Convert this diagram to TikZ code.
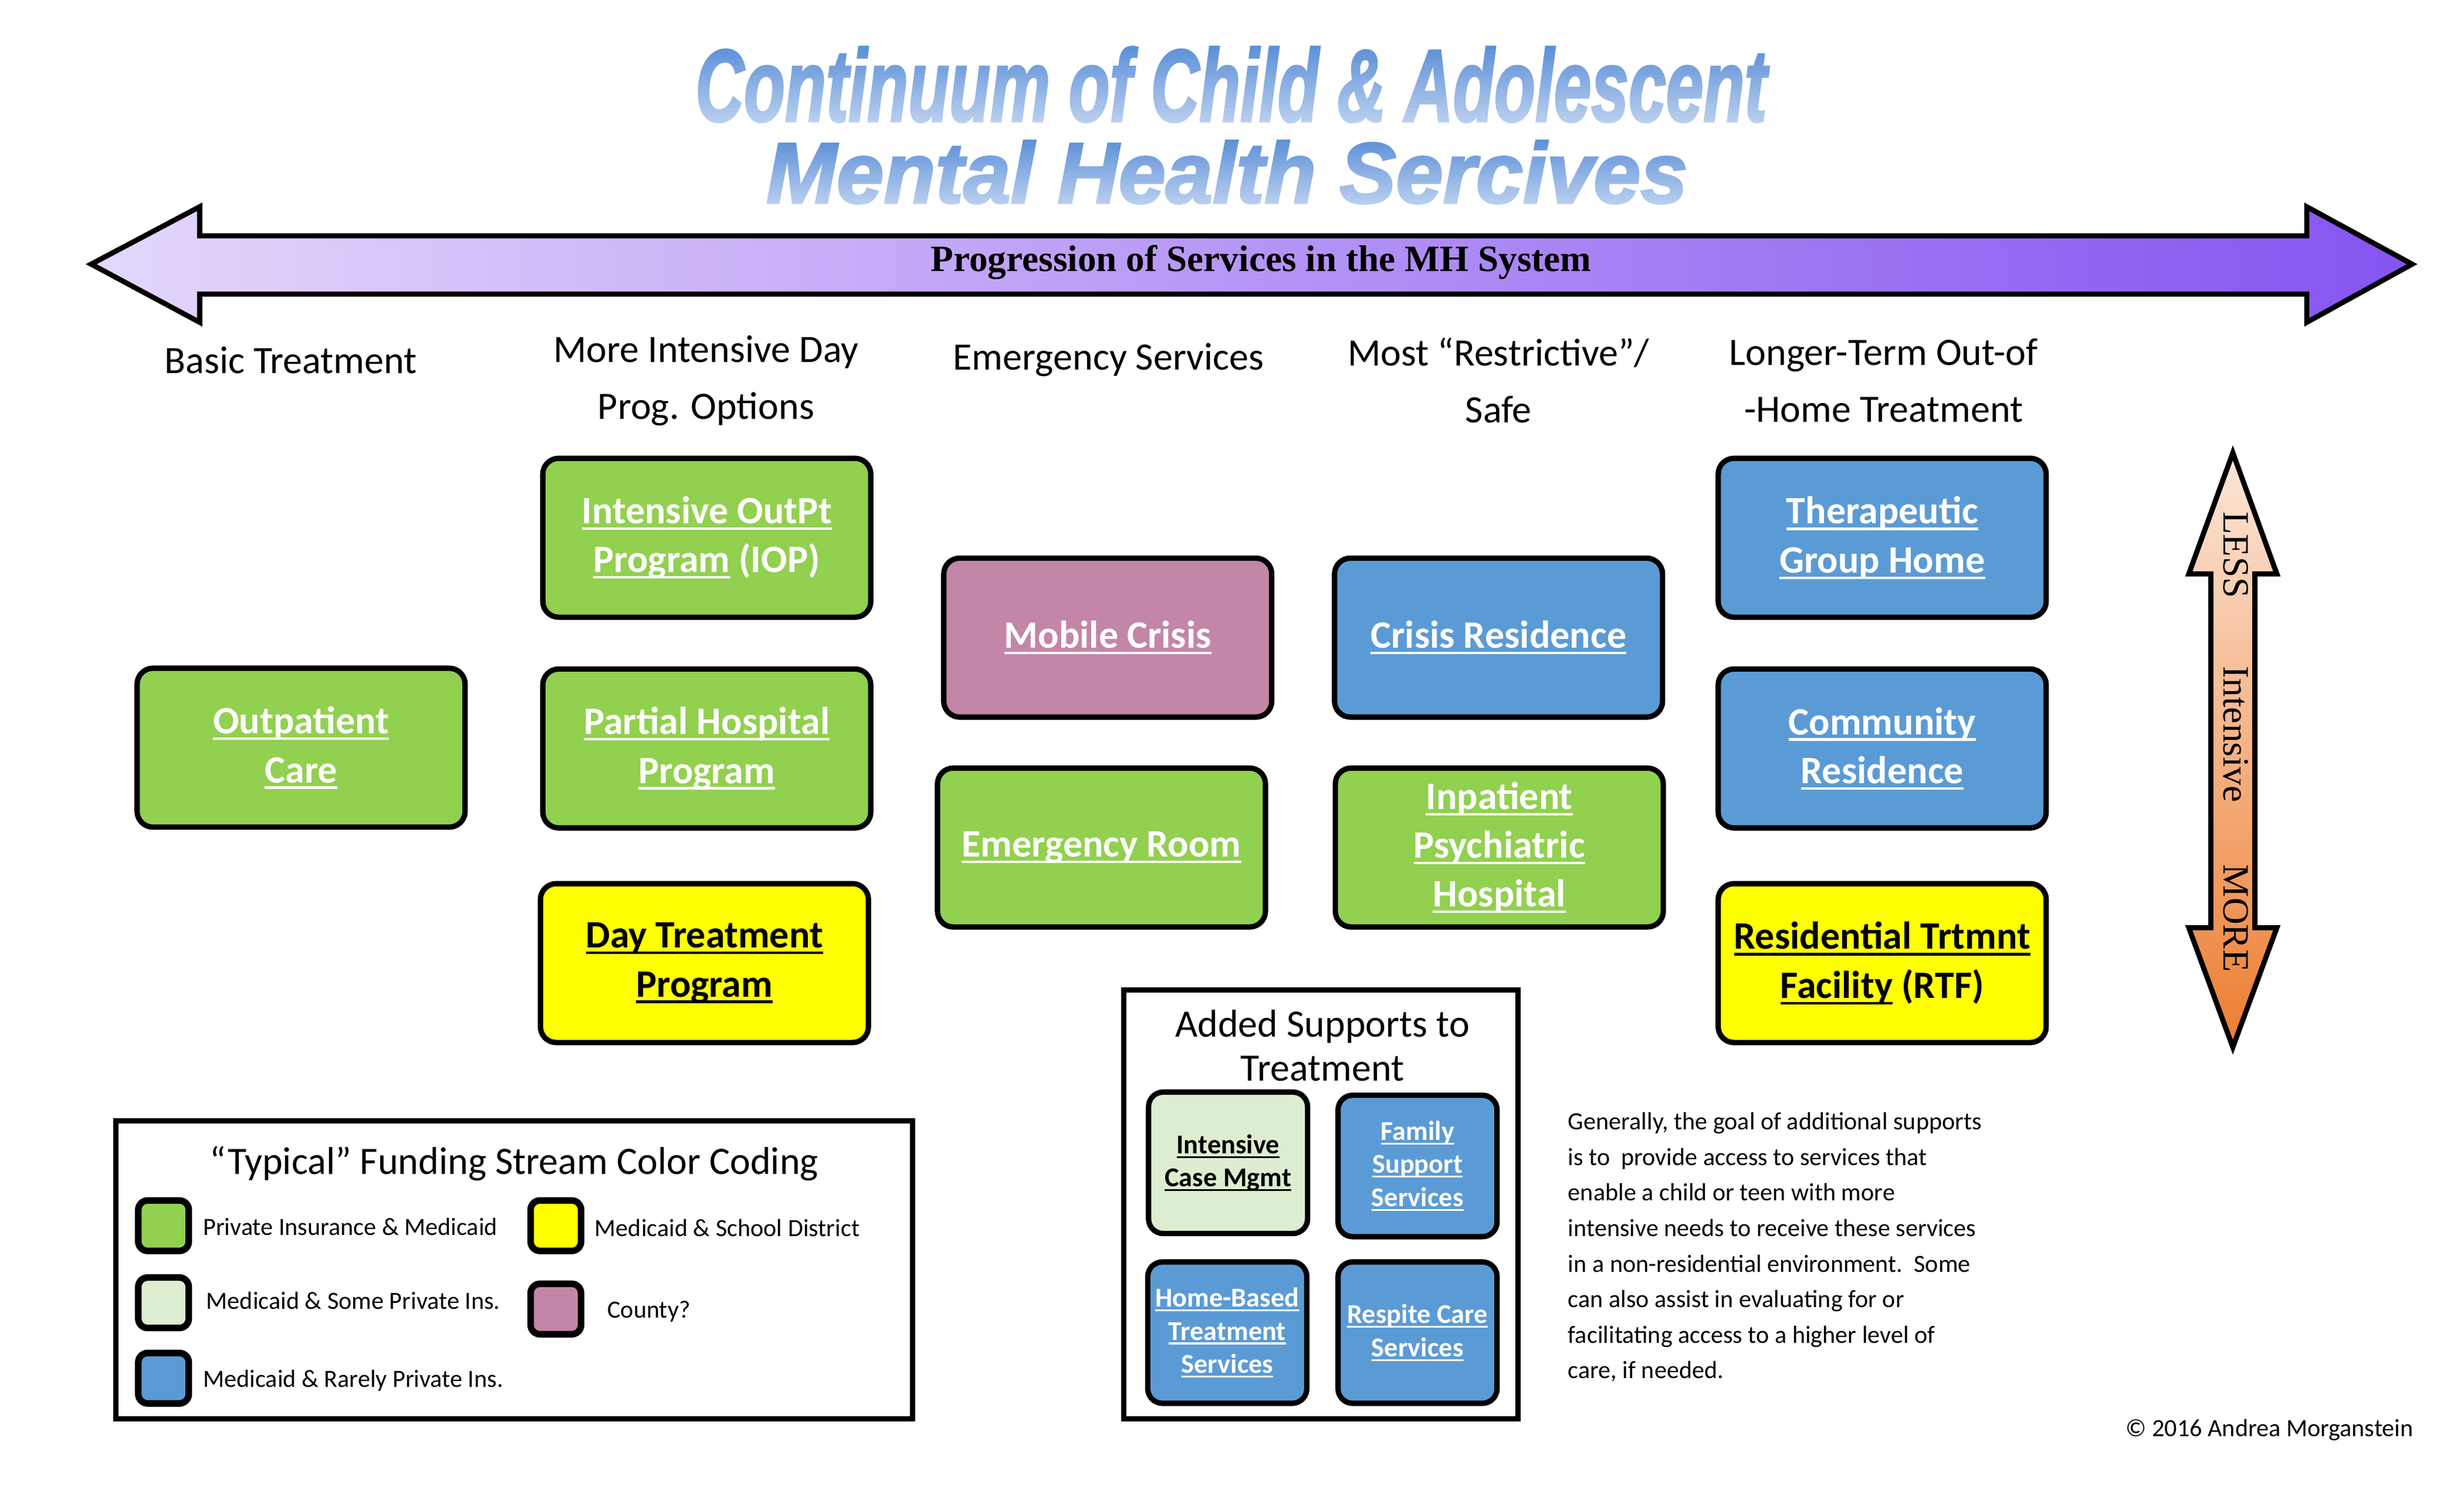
\documentclass[tikz,border=0pt]{standalone}
\usepackage{fontspec}
\setmainfont{Carlito}
\newfontfamily\ttlfont{Liberation Sans}[BoldItalicFeatures={FakeBold=2.5}]
\newfontfamily\serfont{Liberation Serif}
\definecolor{cgreen}{HTML}{92D050}
\definecolor{cblue}{HTML}{5B9BD5}
\definecolor{cyellow}{HTML}{FFFF00}
\definecolor{cmauve}{HTML}{C386A6}
\definecolor{clight}{HTML}{DDEDD0}
\definecolor{ttop}{HTML}{5A8ED8}
\definecolor{purL}{HTML}{E4D8FB}
\definecolor{purR}{HTML}{8654F0}
\definecolor{orT}{HTML}{FCE6D8}
\definecolor{orB}{HTML}{ED7D31}
\newcommand{\ulx}[1]{\setbox0=\hbox{#1}\rlap{\rule[-0.16em]{\wd0}{0.065em}}\box0\relax}
\begin{document}
\begin{tikzpicture}[x=0.026802cm, y=-0.026802cm,
  svc/.style={draw, line width=2.6pt, rounded corners=0.27cm, minimum width=5.589cm, minimum height=2.708cm,
    align=center, inner sep=0pt, font=\fontsize{18.8}{23.7}\selectfont\bfseries},
  sup/.style={draw, line width=2.6pt, rounded corners=0.25cm, minimum width=2.71cm, minimum height=2.41cm,
    align=center, inner sep=0pt, font=\fontsize{13.2}{16}\selectfont\bfseries},
  sw/.style={draw, line width=3.2pt, rounded corners=0.16cm, minimum size=0.86cm, inner sep=0pt},
  hdr/.style={align=center, inner sep=0pt, font=\fontsize{18.8}{27.6}\selectfont},
  small/.style={inner sep=0pt, font=\fontsize{12}{14}\selectfont},
  vtxt/.style={rotate=-90, inner sep=0pt, font=\serfont\fontsize{18}{20}\selectfont},
  ttl/.style={anchor=base west, inner sep=0pt, text depth=0pt, text=ttop},
  frame/.style={draw, line width=2.5pt}]
\useasboundingbox (0,0) rectangle (1567.03,951.4);

% ---------- title (blue text, lightened towards the bottom by white veils) ----------
\node[ttl] (titleA) at (442,77)
  {\resizebox{18.25cm}{1.262cm}{\ttlfont\bfseries\itshape Continuum of Child \& Adolescent}};
\node[ttl] (titleB) at (487,129)
  {\resizebox{15.70cm}{1.06cm}{\ttlfont\bfseries\itshape Mental Health Sercives}};
\foreach \i in {0,...,19}{
  \pgfmathsetmacro\ya{27+\i*2.6}
  \pgfmathsetmacro\yb{\ya+2.6}
  \pgfmathsetmacro\op{0.58*\i/19}
  \fill[white, fill opacity=\op] (420,\ya) rectangle (1150,\yb);
}
\foreach \i in {0,...,19}{
  \pgfmathsetmacro\ya{86+\i*2.25}
  \pgfmathsetmacro\yb{\ya+2.25}
  \pgfmathsetmacro\op{0.58*\i/19}
  \fill[white, fill opacity=\op] (420,\ya) rectangle (1150,\yb);
}

% ---------- horizontal progression arrow ----------
\draw[line width=2.5pt, left color=purL, right color=purR]
  (58,168) -- (127,131.5) -- (127,150) -- (1467,150) -- (1467,131.5) -- (1534,168)
  -- (1467,205) -- (1467,187) -- (127,187) -- (127,205) -- cycle;
\node[inner sep=0pt, font=\serfont\bfseries\fontsize{18}{20}\selectfont] (prog) at (802,167)
  {Progression of Services in the MH System};

% ---------- column headers ----------
\node[hdr] (h1) at (185,229) {Basic Treatment};
\node[hdr] (h2) at (449,242) {More Intensive Day\\Prog. Options};
\node[hdr] (h3) at (705,229) {Emergency Services};
\node[hdr] (h4) at (953,242) {Most “Restrictive”/\\Safe};
\node[hdr] (h5) at (1198,242) {Longer-Term Out-of\\-Home Treatment};

% ---------- service boxes ----------
\node[svc, fill=cgreen, text=white] (outp) at (191.5,475.5) {\ulx{Outpatient}\\\ulx{Care}};
\node[svc, fill=cgreen, text=white] (iop) at (449.5,342) {\ulx{Intensive OutPt}\\\ulx{Program} (IOP)};
\node[svc, fill=cgreen, text=white] (php) at (449.5,476) {\ulx{Partial Hospital}\\\ulx{Program}};
\node[svc, fill=cyellow, text=black] (dtp) at (448,612.5) {\ulx{Day Treatment}\\\ulx{Program}};
\node[svc, fill=cmauve, text=white] (mob) at (704.5,405.5) {\ulx{Mobile Crisis}};
\node[svc, fill=cgreen, text=white] (er) at (700.5,539) {\ulx{Emergency Room}};
\node[svc, fill=cblue, text=white] (cres) at (953,405.5) {\ulx{Crisis Residence}};
\node[svc, fill=cgreen, text=white] (inpt) at (953.5,539) {\ulx{Inpatient}\\\ulx{Psychiatric}\\\ulx{Hospital}};
\node[svc, fill=cblue, text=white] (tgh) at (1197,342) {\ulx{Therapeutic}\\\ulx{Group Home}};
\node[svc, fill=cblue, text=white] (comres) at (1197,476) {\ulx{Community}\\\ulx{Residence}};
\node[svc, fill=cyellow, text=black] (rtf) at (1197,612.5) {\ulx{Residential Trtmnt}\\\ulx{Facility} (RTF)};

% ---------- vertical intensity arrow ----------
\draw[line width=2.5pt, top color=orT, bottom color=orB]
  (1420,288) -- (1448,365) -- (1434,365) -- (1434,590) -- (1448,590) -- (1420,666)
  -- (1392,590) -- (1406,590) -- (1406,365) -- (1392,365) -- cycle;
\node[vtxt] (less) at (1422,353) {LESS};
\node[vtxt] (intens) at (1422,467) {Intensive};
\node[vtxt] (more) at (1422,584) {MORE};

% ---------- legend ----------
\draw[frame] (73.7,712.7) rectangle (580.3,902.3);
\node[hdr] (legt) at (327,740) {“Typical” Funding Stream Color Coding};
\node[sw, fill=cgreen] (sw1) at (104,779.5) {};
\node[sw, fill=clight] (sw2) at (104,828.5) {};
\node[sw, fill=cblue] (sw3) at (104,876.5) {};
\node[sw, fill=cyellow] (sw4) at (353.5,779.5) {};
\node[sw, fill=cmauve] (sw5) at (353.5,832.5) {};
\node[small, anchor=west] (l1) at (129,780) {Private Insurance \& Medicaid};
\node[small, anchor=west] (l2) at (131,827) {Medicaid \& Some Private Ins.};
\node[small, anchor=west] (l3) at (129,878) {Medicaid \& Rarely Private Ins.};
\node[small, anchor=west] (l4) at (378,781) {Medicaid \& School District};
\node[small, anchor=west] (l5) at (386,834) {County?};

% ---------- added supports ----------
\draw[frame] (714.7,629.7) rectangle (965.3,902.3);
\node[align=center, inner sep=0pt, font=\fontsize{18.8}{21.4}\selectfont] (supt) at (841,665)
  {Added Supports to\\Treatment};
\node[sup, fill=clight, text=black] (icm) at (781,739.5) {\ulx{Intensive}\\\ulx{Case Mgmt}};
\node[sup, fill=cblue, text=white] (fss) at (901.5,741.5) {\ulx{Family}\\\ulx{Support}\\\ulx{Services}};
\node[sup, fill=cblue, text=white] (hbt) at (780.5,847.5) {\ulx{Home-Based}\\\ulx{Treatment}\\\ulx{Services}};
\node[sup, fill=cblue, text=white] (rcs) at (901.5,847.5) {\ulx{Respite Care}\\\ulx{Services}};

% ---------- explanatory paragraph ----------
\node[small, anchor=base west] (p1) at (997,718.5) {Generally, the goal of additional supports};
\node[small, anchor=base west] (p2) at (997,741.1) {is to\ \ provide access to services that};
\node[small, anchor=base west] (p3) at (997,763.7) {enable a child or teen with more};
\node[small, anchor=base west] (p4) at (997,786.3) {intensive needs to receive these services};
\node[small, anchor=base west] (p5) at (997,808.9) {in a non-residential environment.\ \ Some};
\node[small, anchor=base west] (p6) at (997,831.5) {can also assist in evaluating for or};
\node[small, anchor=base west] (p7) at (997,854.1) {facilitating access to a higher level of};
\node[small, anchor=base west] (p8) at (997,876.7) {care, if needed.};

\node[small, anchor=base east] (copy) at (1535,913.5) {© 2016 Andrea Morganstein};
\end{tikzpicture}
\end{document}
